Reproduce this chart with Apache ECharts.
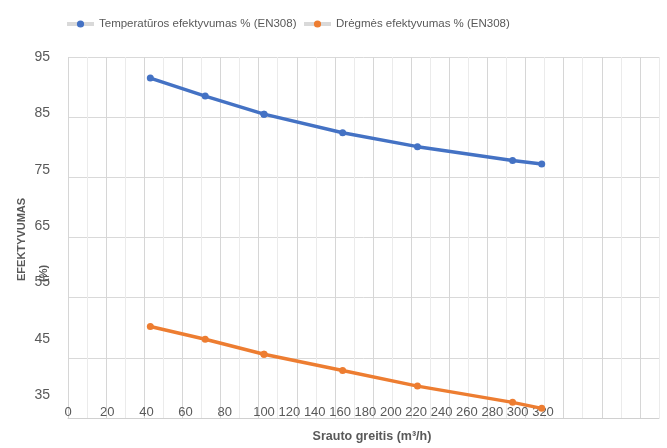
<!DOCTYPE html>
<html>
<head>
<meta charset="utf-8">
<script src="https://cdn.jsdelivr.net/npm/echarts@6/dist/echarts.min.js"></script>
<style>
html,body{margin:0;padding:0;background:#fff;}
#chart{width:667px;height:448px;}
</style>
</head>
<body>
<div id="chart"></div>
<script>
// ---- data ----
const flowRates = [42, 70, 100, 162, 221, 296, 319];          // m³/h
const tempEfficiency = [91.5, 88.5, 85.5, 82.4, 80.1, 77.8, 77.2];
const humidityEfficiency = [50.2, 48.1, 45.6, 42.9, 40.3, 37.6, 36.6];
const seriesNames = ['Temperatūros efektyvumas % (EN308)', 'Drėgmės efektyvumas % (EN308)'];
const yMin = 35, yMax = 95, yStep = 10;
const xLabelStep = 20;
const xLeftMin = 0, xBreak = 100, xRightMax = 320;   // label axis changes spacing at 100
const gridXMax = 310, gridXStep = 10;
const xTitle = 'Srauto greitis (m³/h)';
const yTitle = ['EFEKTYVUMAS', '(%)'];

const FONT = "'Liberation Sans', sans-serif";
const colors = ['#4472C4', '#ED7D31'];
const txt = '#595959';

function yFmt(v) { return ((v - yMin) % yStep === 0) ? String(v) : ''; }

function buildSeries(values, name, color) {
  const pts = flowRates.map((x, i) => [x, values[i]]);
  const common = {
    type: 'line', name: name, symbol: 'circle', symbolSize: 7,
    lineStyle: { color: color, width: 3.5 },
    itemStyle: { color: color },
    clip: false, silent: true, animation: false
  };
  return [
    Object.assign({}, common, { xAxisIndex: 1, yAxisIndex: 1, data: pts.filter(p => p[0] <= xBreak) }),
    Object.assign({}, common, { xAxisIndex: 2, yAxisIndex: 2, data: pts.filter(p => p[0] >= xBreak) })
  ];
}

const plotTop = 57, plotH = 361;
const chart = echarts.init(document.getElementById('chart'), null, { renderer: 'canvas' });
const hiddenAxis = { axisLine: { show: false }, axisTick: { show: false }, axisLabel: { show: false }, splitLine: { show: false } };
const legendBase = { top: 13, itemWidth: 27, itemHeight: 9, itemGap: 0,
  lineStyle: { color: '#d9d9d9', width: 4 },
  textStyle: { fontFamily: FONT, fontSize: 11.5, color: txt } };

chart.setOption({
  animation: false,
  backgroundColor: '#fff',
  legend: [
    Object.assign({ data: [seriesNames[0]], left: 60 }, legendBase),
    Object.assign({ data: [seriesNames[1]], left: 297 }, legendBase)
  ],
  grid: [
    { left: 68, top: plotTop, width: 591, height: plotH },          // gridlines
    { left: 68, top: plotTop, width: 196, height: plotH },          // 0..100 segment
    { left: 264, top: plotTop, width: 279, height: plotH },         // 100..320 segment
    { left: 68, top: plotTop, width: 591, height: 338 }             // y label axis
  ],
  xAxis: [
    { type: 'value', gridIndex: 0, min: 0, max: gridXMax, interval: gridXStep,
      axisLine: { show: true, lineStyle: { color: '#d0d0d0' } }, axisTick: { show: false }, axisLabel: { show: false },
      splitLine: { show: true, lineStyle: { color: ['#d6d6d6', '#ebebeb'], width: 1 } } },
    { type: 'value', gridIndex: 1, min: xLeftMin, max: xBreak, interval: xLabelStep, offset: -12,
      axisLine: { show: false }, axisTick: { show: false }, splitLine: { show: false },
      axisLabel: { show: true, margin: 0, fontFamily: FONT, fontSize: 13, color: txt } },
    { type: 'value', gridIndex: 2, min: xBreak, max: xRightMax, interval: xLabelStep, offset: -12,
      axisLine: { show: false }, axisTick: { show: false }, splitLine: { show: false },
      axisLabel: { show: true, margin: 0, showMinLabel: false, fontFamily: FONT, fontSize: 13, color: txt } },
    Object.assign({ type: 'value', gridIndex: 3, min: 0, max: 1 }, hiddenAxis)
  ],
  yAxis: [
    { type: 'value', gridIndex: 0, min: yMin, max: yMax, interval: yStep / 2,
      axisLine: { show: false }, axisTick: { show: false }, axisLabel: { show: false },
      splitLine: { show: true, lineStyle: { color: ['#d9d9d9', 'rgba(0,0,0,0)'], width: 1 } } },
    Object.assign({ type: 'value', gridIndex: 1, min: yMin, max: yMax }, hiddenAxis),
    Object.assign({ type: 'value', gridIndex: 2, min: yMin, max: yMax }, hiddenAxis),
    { type: 'value', gridIndex: 3, min: yMin, max: yMax, interval: yStep / 2,
      axisLine: { show: false }, axisTick: { show: false }, splitLine: { show: false },
      axisLabel: { show: true, margin: 18, formatter: yFmt, fontFamily: FONT, fontSize: 14, color: txt } }
  ],
  graphic: [
    { type: 'text', x: 22, y: 281, rotation: Math.PI / 2, silent: true,
      style: { text: yTitle[0], font: "bold 11px 'Liberation Sans', sans-serif", fill: txt, align: 'left', verticalAlign: 'middle' } },
    { type: 'text', x: 44, y: 282, rotation: Math.PI / 2, silent: true,
      style: { text: yTitle[1], font: "bold 11px 'Liberation Sans', sans-serif", fill: txt, align: 'left', verticalAlign: 'middle' } },
    { type: 'text', x: 372, y: 437, silent: true,
      style: { text: xTitle, font: "bold 12.5px 'Liberation Sans', sans-serif", fill: txt, align: 'center', verticalAlign: 'middle' } }
  ],
  series: [].concat(
    buildSeries(tempEfficiency, seriesNames[0], colors[0]),
    buildSeries(humidityEfficiency, seriesNames[1], colors[1])
  )
});
</script>
</body>
</html>
